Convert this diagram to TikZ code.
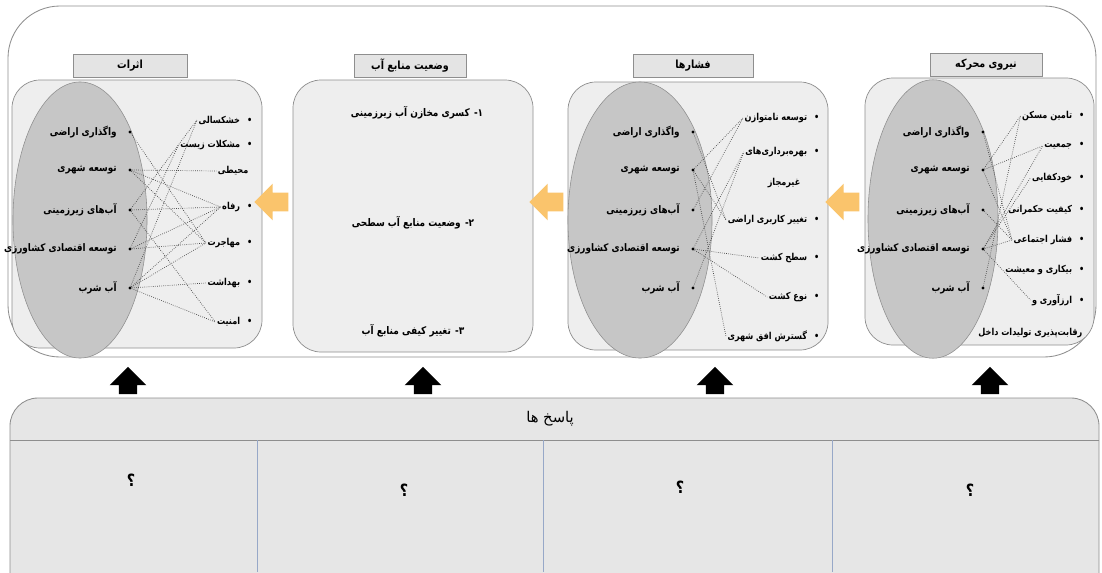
\documentclass[tikz,border=0pt]{standalone}
\usepackage{fontspec}
\usepackage{xcolor}
\usetikzlibrary{positioning}
\usetikzlibrary{shapes.arrows}
\TeXXeTstate=1
\newfontfamily\fafont[Script=Arabic, FakeStretch=0.85]{DejaVu Sans}
\newfontfamily\faplain[Script=Arabic]{DejaVu Sans}
\newcommand\fa[1]{{\fafont\beginR #1\endR}}
\definecolor{bordergray}{HTML}{8E8E8E}
\definecolor{panelgray}{HTML}{EEEEEE}
\definecolor{ellgray}{HTML}{C6C6C6}
\definecolor{titlegray}{HTML}{E4E4E4}
\definecolor{respgray}{HTML}{E6E6E6}
\definecolor{linkgray}{HTML}{4A4A4A}
\definecolor{arroworange}{HTML}{FAC46C}
\definecolor{divblue}{HTML}{97A8C8}
\tikzset{
  frame/.style={draw=bordergray, fill=white, rounded corners=1.3cm, line width=0.6pt},
  panel/.style={draw=bordergray, fill=panelgray, rounded corners=0.7cm, line width=0.5pt},
  ellarea/.style={draw=bordergray, fill=ellgray, line width=0.4pt},
  titlebox/.style={draw=bordergray, fill=titlegray, minimum height=0.575cm, inner sep=0pt, font=\fontsize{8}{9}\selectfont\bfseries},
  item/.style={font=\fontsize{7.4}{9}\selectfont\bfseries, inner sep=1pt},
  stateitem/.style={font=\fontsize{7.5}{9}\selectfont\bfseries, inner sep=1pt},
  listitem/.style={font=\fontsize{6.8}{9}\selectfont\bfseries, anchor=east, inner sep=1pt},
  dotmark/.style={circle, fill=black, inner sep=0pt, minimum size=2.2pt},
  linkline/.style={densely dotted, draw=linkgray, line width=0.5pt},
  orangearrow/.style={single arrow, shape border rotate=180, fill=arroworange, inner sep=0.225cm, single arrow head extend=0.225cm, minimum height=0.85cm},
  blackarrow/.style={single arrow, shape border rotate=90, fill=black, inner sep=0.22cm, single arrow head extend=0.23cm, minimum height=0.66cm},
  respbox/.style={draw=bordergray, fill=respgray, rounded corners=0.7cm, line width=0.6pt},
  qmark/.style={font=\fontsize{12}{14}\selectfont\bfseries},
}

\begin{document}
\begin{tikzpicture}[x=0.025cm, y=-0.025cm]
\clip (0,0) rectangle (1102,572);
\draw[frame] (8,6) rectangle (1096,357);

% panels and ellipses
\draw[panel] (12,80) rectangle (262,348);
\draw[panel] (293,80) rectangle (533,352);
\draw[panel] (568,82) rectangle (828,350);
\draw[panel] (865,78) rectangle (1094,345);
\draw[ellarea] (80,220) ellipse (1.675cm and 3.45cm);
\draw[ellarea] (640,220) ellipse (1.8cm and 3.45cm);
\draw[ellarea] (933,219) ellipse (1.625cm and 3.48cm);

% titles
\node[titlebox, minimum width=2.85cm] (tim) at (130,66) {\fa{اثرات}};
\node[titlebox, minimum width=2.8cm] (tst) at (410,66) {\fa{وضعیت منابع آب}};
\node[titlebox, minimum width=3cm] (tpr) at (693,66) {\fa{فشارها}};
\node[titlebox, minimum width=2.8cm] (tdv) at (986,65) {\fa{نیروی محرکه}};

% dots in the ellipses
\foreach \n/\y in {1/132, 2/170, 3/210, 4/249, 5/288} {
  \node[dotmark] (im\n) at (130,\y) {};
  \node[dotmark] (pr\n) at (693,\y) {};
  \node[dotmark] (dv\n) at (983,\y) {};
}
\foreach \p in {im, pr, dv} {
  \node[item, left=7pt of \p1] (\p1l) {\fa{واگذاری اراضی}};
  \node[item, left=7pt of \p2] (\p2l) {\fa{توسعه شهری}};
  \node[item, left=7pt of \p3] (\p3l) {\fa{آب^^^^200cهای زیرزمینی}};
  \node[item, left=7pt of \p4] (\p4l) {\fa{توسعه اقتصادی کشاورزی}};
  \node[item, left=7pt of \p5] (\p5l) {\fa{آب شرب}};
}

% driving forces list
\node[listitem] (dvr1) at (1086,116) {\fa{•\hspace{5pt}تامین مسکن}};
\node[listitem] (dvr2) at (1086,146) {\fa{•\hspace{5pt}جمعیت}};
\node[listitem] (dvr3) at (1086,178) {\fa{•\hspace{5pt}خودکفایی}};
\node[listitem] (dvr4) at (1086,210) {\fa{•\hspace{5pt}کیفیت حکمرانی}};
\node[listitem] (dvr5) at (1086,240) {\fa{•\hspace{5pt}فشار اجتماعی}};
\node[listitem] (dvr6) at (1086,270) {\fa{•\hspace{5pt}بیکاری و معیشت}};
\node[listitem] (dvr7) at (1086,300) {\fa{•\hspace{5pt}ارزآوری و}};
\node[listitem] (dvr8) at (1084,333) {\fa{رقابت^^^^200cپذیری تولیدات داخل}};

% pressures list
\node[listitem] (prr1) at (821,118) {\fa{•\hspace{5pt}توسعه نامتوازن}};
\node[listitem] (prr2) at (821,152) {\fa{•\hspace{5pt}بهره^^^^200cبرداری^^^^200cهای}};
\node[listitem] (prr2b) at (802,183) {\fa{غیرمجاز}};
\node[listitem] (prr3) at (821,220) {\fa{•\hspace{5pt}تغییر کاربری اراضی}};
\node[listitem] (prr4) at (821,258) {\fa{•\hspace{5pt}سطح کشت}};
\node[listitem] (prr5) at (821,297) {\fa{•\hspace{5pt}نوع کشت}};
\node[listitem] (prr6) at (821,336) {\fa{•\hspace{5pt}گسترش افق شهری}};

% state
\node[stateitem] (st1) at (417,113) {\fa{۱\kern0pt-\hspace{3pt}کسری مخازن آب زیرزمینی}};
\node[stateitem] (st2) at (413,223) {\fa{۲\kern0pt-\hspace{3pt}وضعیت منابع آب سطحی}};
\node[stateitem] (st3) at (413,331) {\fa{۳\kern0pt-\hspace{3pt}تغییر کیفی منابع آب}};

% impacts list
\node[listitem] (imr1) at (254,120) {\fa{•\hspace{5pt}خشکسالی}};
\node[listitem] (imr2) at (254,145) {\fa{•\hspace{5pt}مشکلات زیست}};
\node[listitem] (imr2b) at (250,171) {\fa{محیطی}};
\node[listitem] (imr3) at (254,207) {\fa{•\hspace{5pt}رفاه}};
\node[listitem] (imr4) at (254,243) {\fa{•\hspace{5pt}مهاجرت}};
\node[listitem] (imr5) at (254,283) {\fa{•\hspace{5pt}بهداشت}};
\node[listitem] (imr6) at (254,322) {\fa{•\hspace{5pt}امنیت}};

% links
\foreach \a/\b in {1/5, 2/1, 2/2, 2/5, 3/5, 4/2, 4/3, 4/5, 4/7, 5/1}
  \draw[linkline] (dv\a) -- (dvr\b.west);
\foreach \a/\b in {1/3, 2/1, 2/3, 2/6, 3/1, 4/2, 4/4, 4/5, 5/2}
  \draw[linkline] (pr\a) -- (prr\b.west);
\foreach \a/\b in {1/4, 2/2b, 2/3, 2/4, 3/1, 3/3, 3/6, 4/2, 4/3, 4/4, 5/1, 5/3, 5/4, 5/5, 5/6}
  \draw[linkline] (im\a) -- (imr\b.west);

% arrows between the panels
\node[orangearrow] (or1) at (276,202) {};
\node[orangearrow] (or2) at (551,202) {};
\node[orangearrow] (or3) at (847,202) {};

% responses
\draw[respbox] (10,398) rectangle (1099,640);
\draw[bordergray, line width=0.6pt] (10,440) -- (1099,440);
\foreach \x in {257, 543, 832}
  \draw[divblue, line width=0.5pt] (\x,440) -- (\x,572);
\node[font=\fontsize{10.5}{12}\selectfont] (resp) at (550,419) {{\faplain\beginR پاسخ ها\endR}};
\node[qmark] (q1) at (131,480) {\fa{؟}};
\node[qmark] (q2) at (404,490) {\fa{؟}};
\node[qmark] (q3) at (680,487) {\fa{؟}};
\node[qmark] (q4) at (970,490) {\fa{؟}};
\foreach \x [count=\i] in {128, 423, 715, 990}
  \node[blackarrow] (up\i) at (\x,385) {};
\end{tikzpicture}
\end{document}
